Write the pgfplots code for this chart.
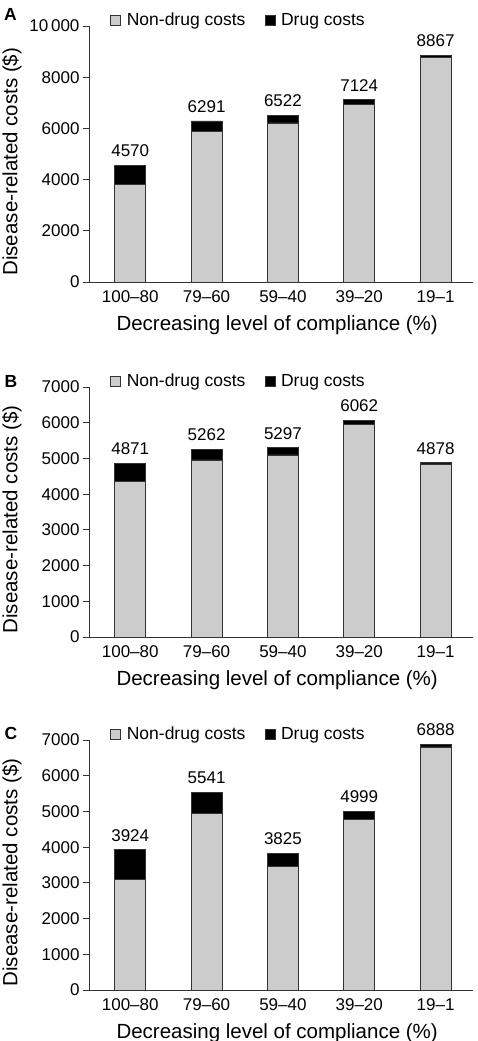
\documentclass[border=0pt]{standalone}
\usepackage{pgfplots}
\pgfplotsset{compat=1.18}
\usepackage{pgfplotstable}
\usepackage{fontspec}
\setmainfont{Liberation Sans}
\definecolor{nondrug}{HTML}{CCCCCC}
\definecolor{barline}{HTML}{333333}

\pgfplotstableread{
x non drug total
0 3814 756 4570
1 5873 418 6291
2 6214 308 6522
3 6946 178 7124
4 8786 81 8867
}\dataA
\pgfplotstableread{
x non drug total
0 4360 511 4871
1 4957 305 5262
2 5097 200 5297
3 5956 106 6062
4 4845 33 4878
}\dataB
\pgfplotstableread{
x non drug total
0 3098 826 3924
1 4932 609 5541
2 3453 372 3825
3 4784 215 4999
4 6806 82 6888
}\dataC

\pgfplotsset{
  panel/.style={
    scale only axis, width=384pt,
    anchor=south west,
    axis x line=bottom, axis y line=left,
    axis line style={-, line width=0.9pt, barline},
    xmin=-0.54, xmax=4.49, ymin=0,
    xtick={0,...,4}, xticklabels={100--80,79--60,59--40,39--20,19--1},
    major x tick style={draw=none},
    major y tick style={line width=0.8pt, barline},
    tick align=outside, major tick length=6pt,
    scaled y ticks=false,
    ybar, bar width=31pt,
    tick label style={font=\fontsize{17}{20}\selectfont},
    xticklabel style={yshift=1pt},
    xlabel={Decreasing level of compliance (\%)},
    ylabel={Disease-related costs (\$)},
    every axis x label/.style={at={(axis description cs:0.49,0)}, anchor=center, yshift=-43pt, font=\fontsize{20.5}{24}\selectfont},
    every axis y label/.style={at={(axis description cs:-0.2005,0.47)}, anchor=center, rotate=90, font=\fontsize{20.5}{24}\selectfont},
    legend style={draw=none, fill=none, at={(0.047,1.023)}, anchor=west,
      legend columns=2, font=\fontsize{17.5}{20}\selectfont,
      /tikz/every even column/.append style={column sep=17pt},
      /tikz/every odd column/.append style={column sep=4pt}},
    legend image code/.code={\draw[#1, draw=barline, line width=0.6pt] (0pt,-5pt) rectangle (10pt,5pt);},
    reverse legend,
    clip=false,
  },
  nonbar/.style={fill=nondrug, draw=barline, line width=0.8pt, bar shift=0pt},
  totbar/.style={fill=black, draw=barline, line width=0.8pt, bar shift=0pt,
    nodes near coords={\pgfmathprintnumber[1000 sep={},assume math mode=true]{\pgfplotspointmeta}},
    point meta=y,
    every node near coord/.append style={font=\fontsize{17}{20}\selectfont, inner sep=0pt, anchor=south, yshift=8pt, black}},
}

\begin{document}
\begin{tikzpicture}
\useasboundingbox (0pt,0pt) rectangle (477pt,-1041pt);

% Panel A
\begin{axis}[panel, at={(89pt,-282pt)}, height=256pt, ymax=10000,
  ytick={0,2000,4000,6000,8000,10000},
  yticklabels={0,2000,4000,6000,8000,10\,000}]
\addplot[totbar] table[x=x,y=total] \dataA;
\addplot[nonbar] table[x=x,y=non] \dataA;
\legend{Drug costs, Non-drug costs}
\end{axis}
\node[font=\bfseries\fontsize{17.5}{20}\selectfont] at (10.5pt,-14pt) {A};

% Panel B
\begin{axis}[panel, at={(89pt,-637pt)}, height=250pt, ymax=7000,
  ytick={0,1000,...,7000},
  yticklabels={0,1000,2000,3000,4000,5000,6000,7000}]
\addplot[totbar] table[x=x,y=total] \dataB;
\addplot[nonbar] table[x=x,y=non] \dataB;
\legend{Drug costs, Non-drug costs}
\end{axis}
\node[font=\bfseries\fontsize{17.5}{20}\selectfont] at (11pt,-381pt) {B};

% Panel C
\begin{axis}[panel, at={(89pt,-990pt)}, height=250pt, ymax=7000,
  ytick={0,1000,...,7000},
  yticklabels={0,1000,2000,3000,4000,5000,6000,7000}]
\addplot[totbar] table[x=x,y=total] \dataC;
\addplot[nonbar] table[x=x,y=non] \dataC;
\legend{Drug costs, Non-drug costs}
\end{axis}
\node[font=\bfseries\fontsize{17.5}{20}\selectfont] at (11pt,-733pt) {C};
\end{tikzpicture}
\end{document}
